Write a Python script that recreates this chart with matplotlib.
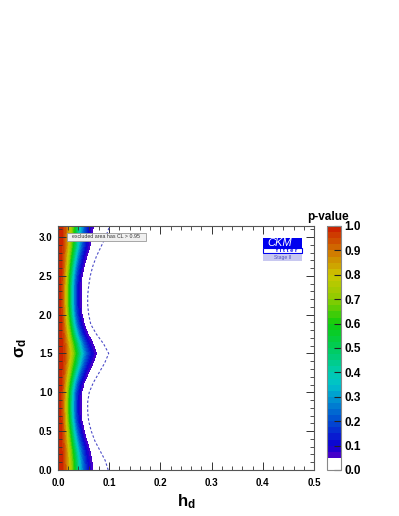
import numpy as np
import matplotlib
matplotlib.use("Agg")
import matplotlib.pyplot as plt
from matplotlib.colors import ListedColormap, BoundaryNorm, LinearSegmentedColormap
from matplotlib.patches import Rectangle

plt.rcParams['font.family'] = ['Liberation Sans', 'DejaVu Sans']
plt.rcParams['mathtext.fontset'] = 'custom'
plt.rcParams['mathtext.rm'] = 'Liberation Sans:bold'
plt.rcParams['mathtext.it'] = 'Liberation Sans:bold'
plt.rcParams['mathtext.bf'] = 'Liberation Sans:bold'

# ---- data ----
sigma_nodes = [0.0, 0.125, 0.25, 0.375, 0.5, 0.625, 0.75, 0.875, 1.0, 1.125, 1.25,
               1.375, 1.5, 1.625, 1.75, 1.875, 2.0, 2.125, 2.25, 2.375, 2.5, 2.625,
               2.75, 2.875, 3.0, 3.1416]
# h_d at which p-value = 0.05 (edge of coloured region)
h_edge95 = [0.068, 0.066, 0.062, 0.056, 0.051, 0.047, 0.045, 0.045, 0.046, 0.051, 0.059,
            0.068, 0.075, 0.068, 0.058, 0.051, 0.047, 0.045, 0.045, 0.045, 0.047, 0.051,
            0.056, 0.062, 0.066, 0.069]
# dashed contour
h_dashed = [0.098, 0.092, 0.082, 0.072, 0.065, 0.060, 0.058, 0.058, 0.061, 0.069, 0.080,
            0.091, 0.099, 0.089, 0.075, 0.064, 0.060, 0.058, 0.058, 0.060, 0.063, 0.068,
            0.075, 0.084, 0.093, 0.101]
cbar_ticks = [0.0, 0.1, 0.2, 0.3, 0.4, 0.5, 0.6, 0.7, 0.8, 0.9, 1.0]
x_ticks = [0.0, 0.1, 0.2, 0.3, 0.4, 0.5]
y_ticks = [0.0, 0.5, 1.0, 1.5, 2.0, 2.5, 3.0]

# ---- p-value field ----
sig = np.array(sigma_nodes)
h = np.linspace(0, 0.5, 1001)
H, S = np.meshgrid(h, sig)
W = np.array(h_edge95)[:, None]
F = H / W
P = np.exp(np.log(0.05) * F ** 2.3)

# ---- colours ----
anchors = [(0.05, (0.33, 0.0, 0.78)), (0.1, (0.05, 0.0, 0.82)), (0.2, (0.0, 0.30, 0.82)),
           (0.3, (0.0, 0.60, 0.82)), (0.35, (0.0, 0.76, 0.80)), (0.4, (0.0, 0.80, 0.68)),
           (0.5, (0.0, 0.80, 0.35)), (0.6, (0.05, 0.80, 0.05)), (0.7, (0.55, 0.80, 0.0)),
           (0.8, (0.80, 0.78, 0.0)), (0.9, (0.82, 0.45, 0.0)), (1.0, (0.80, 0.10, 0.0))]
base = LinearSegmentedColormap.from_list(
    'root', [((v - 0.05) / 0.95, c) for v, c in anchors])
levels = np.concatenate([[0.0], np.linspace(0.05, 1.0, 39)])
band_cols = ['white'] + [base((0.5 * (levels[i] + levels[i + 1]) - 0.05) / 0.95)
                         for i in range(1, len(levels) - 1)]
cmap = ListedColormap(band_cols)
norm = BoundaryNorm(levels, cmap.N)

fig = plt.figure(figsize=(3.99, 5.16), dpi=100)
ax = fig.add_axes([58 / 399, 1 - 470 / 516, 256 / 399, 244 / 516])
cf = ax.contourf(H, S, P, levels=levels, cmap=cmap, norm=norm, antialiased=False)
ax.plot(h_dashed, sigma_nodes, color='#4a4ac8', lw=0.8, linestyle=(0, (2.2, 1.8)))

ax.set_xlim(0, 0.5)
ax.set_ylim(0, np.pi)
ax.set_xticks(x_ticks)
ax.set_xticklabels(['%.1f' % v for v in x_ticks])
ax.set_yticks(y_ticks)
ax.set_yticklabels(['%.1f' % v for v in y_ticks])
ax.set_xticks(np.arange(0, 0.5001, 0.02), minor=True)
ax.set_yticks(np.arange(0, 3.15, 0.1), minor=True)
ax.tick_params(which='both', direction='in', top=True, right=True, color='#333333')
ax.tick_params(which='major', length=6, width=0.7, labelsize=7)
ax.tick_params(axis='x', which='major', pad=6)
ax.tick_params(axis='y', which='major', pad=4)
ax.tick_params(which='minor', length=3, width=0.6)
for lab in ax.get_xticklabels() + ax.get_yticklabels():
    lab.set_fontweight('bold')
for sp in ax.spines.values():
    sp.set_color('#555555')
    sp.set_linewidth(0.8)
ax.set_xlabel(r'$\mathrm{h_d}$', fontsize=12, labelpad=3)
ax.set_ylabel(r'$\mathrm{\sigma_d}$', fontsize=12, labelpad=7)

# legend box
fig.patches.append(Rectangle((67 / 399, 1 - 241 / 516), 79 / 399, 8 / 516,
                             transform=fig.transFigure, facecolor='#f0f0f0',
                             edgecolor='#999999', lw=0.6))
fig.text(106 / 399, 1 - 237 / 516, 'excluded area has CL > 0.95', fontsize=3.8,
         ha='center', va='center', color='#333333')

# CKM logo
fig.patches.append(Rectangle((263 / 399, 1 - 248 / 516), 39 / 399, 10 / 516,
                             transform=fig.transFigure, facecolor='#0000ee', edgecolor='none'))
fig.patches.append(Rectangle((263 / 399, 1 - 253 / 516), 39 / 399, 5 / 516,
                             transform=fig.transFigure, facecolor='white',
                             edgecolor='#0000ee', lw=0.8))
fig.text(280 / 399, 1 - 243 / 516, 'CKM', fontsize=8, color='white', style='italic',
         ha='center', va='center')
fig.text(287 / 399, 1 - 250.7 / 516, 'f i t t e r', fontsize=4.2, color='#0000ee',
         fontweight='bold', ha='center', va='center')
fig.patches.append(Rectangle((263 / 399, 1 - 261 / 516), 39 / 399, 7 / 516,
                             transform=fig.transFigure, facecolor='#c8c8f0', edgecolor='none'))
fig.text(282.5 / 399, 1 - 257.5 / 516, 'Stage II', fontsize=3.6, color='#5050c0',
         ha='center', va='center')

# colour bar
cax = fig.add_axes([327 / 399, 1 - 470 / 516, 13.5 / 399, 244 / 516])
cb = fig.colorbar(cf, cax=cax, spacing='proportional', ticks=cbar_ticks)
cb.outline.set_edgecolor('#888888')
cb.outline.set_linewidth(0.8)
cax.set_yticklabels(['%.1f' % v for v in cbar_ticks])
cax.tick_params(direction='in', length=5, width=0.8, color='#222222', labelsize=8.5, pad=3)
for lab in cax.get_yticklabels():
    lab.set_fontweight('bold')
cax.minorticks_off()
fig.text(328 / 399, 1 - 217 / 516, 'p-value', fontsize=8.5, fontweight='bold',
         ha='center', va='center')

fig.savefig('out.png', dpi=100)
